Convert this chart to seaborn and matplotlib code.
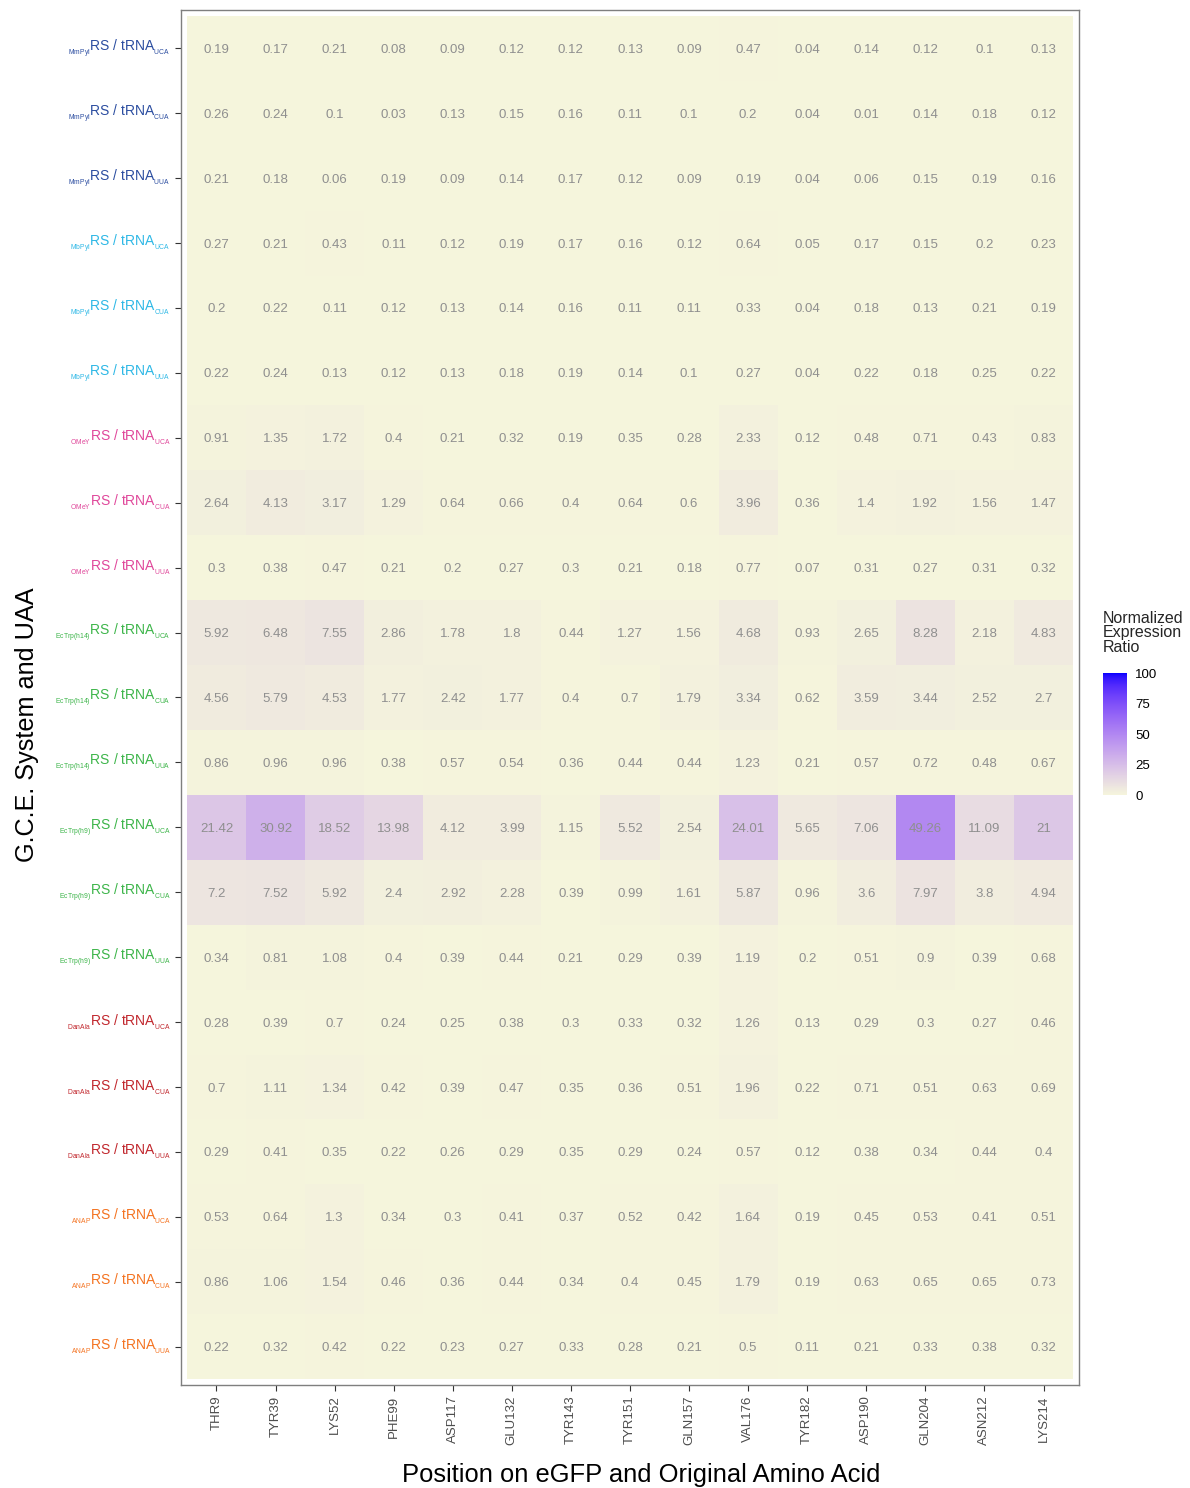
import matplotlib
matplotlib.use("Agg")
import matplotlib.pyplot as plt
from matplotlib.colors import LinearSegmentedColormap
import seaborn as sns
import pandas as pd
import numpy as np

# --- data ---
positions = ['THR9', 'TYR39', 'LYS52', 'PHE99', 'ASP117', 'GLU132', 'TYR143', 'TYR151',
             'GLN157', 'VAL176', 'TYR182', 'ASP190', 'GLN204', 'ASN212', 'LYS214']
systems = ['MmPyl', 'MbPyl', 'OMeY', 'EcTrp(h14)', 'EcTrp(h9)', 'DanAla', 'ANAP']
codons = ['UCA', 'CUA', 'UUA']
system_colors = ['#2B4DA0', '#2EB8E6', '#E0489B', '#3DB54A', '#3DB54A', '#C1272D', '#F47321']

mmpyl_uca = [0.19, 0.17, 0.21, 0.08, 0.09, 0.12, 0.12, 0.13, 0.09, 0.47, 0.04, 0.14, 0.12, 0.1, 0.13]
mmpyl_cua = [0.26, 0.24, 0.1, 0.03, 0.13, 0.15, 0.16, 0.11, 0.1, 0.2, 0.04, 0.01, 0.14, 0.18, 0.12]
mmpyl_uua = [0.21, 0.18, 0.06, 0.19, 0.09, 0.14, 0.17, 0.12, 0.09, 0.19, 0.04, 0.06, 0.15, 0.19, 0.16]
mbpyl_uca = [0.27, 0.21, 0.43, 0.11, 0.12, 0.19, 0.17, 0.16, 0.12, 0.64, 0.05, 0.17, 0.15, 0.2, 0.23]
mbpyl_cua = [0.2, 0.22, 0.11, 0.12, 0.13, 0.14, 0.16, 0.11, 0.11, 0.33, 0.04, 0.18, 0.13, 0.21, 0.19]
mbpyl_uua = [0.22, 0.24, 0.13, 0.12, 0.13, 0.18, 0.19, 0.14, 0.1, 0.27, 0.04, 0.22, 0.18, 0.25, 0.22]
omey_uca = [0.91, 1.35, 1.72, 0.4, 0.21, 0.32, 0.19, 0.35, 0.28, 2.33, 0.12, 0.48, 0.71, 0.43, 0.83]
omey_cua = [2.64, 4.13, 3.17, 1.29, 0.64, 0.66, 0.4, 0.64, 0.6, 3.96, 0.36, 1.4, 1.92, 1.56, 1.47]
omey_uua = [0.3, 0.38, 0.47, 0.21, 0.2, 0.27, 0.3, 0.21, 0.18, 0.77, 0.07, 0.31, 0.27, 0.31, 0.32]
h14_uca = [5.92, 6.48, 7.55, 2.86, 1.78, 1.8, 0.44, 1.27, 1.56, 4.68, 0.93, 2.65, 8.28, 2.18, 4.83]
h14_cua = [4.56, 5.79, 4.53, 1.77, 2.42, 1.77, 0.4, 0.7, 1.79, 3.34, 0.62, 3.59, 3.44, 2.52, 2.7]
h14_uua = [0.86, 0.96, 0.96, 0.38, 0.57, 0.54, 0.36, 0.44, 0.44, 1.23, 0.21, 0.57, 0.72, 0.48, 0.67]
h9_uca = [21.42, 30.92, 18.52, 13.98, 4.12, 3.99, 1.15, 5.52, 2.54, 24.01, 5.65, 7.06, 49.26, 11.09, 21]
h9_cua = [7.2, 7.52, 5.92, 2.4, 2.92, 2.28, 0.39, 0.99, 1.61, 5.87, 0.96, 3.6, 7.97, 3.8, 4.94]
h9_uua = [0.34, 0.81, 1.08, 0.4, 0.39, 0.44, 0.21, 0.29, 0.39, 1.19, 0.2, 0.51, 0.9, 0.39, 0.68]
danala_uca = [0.28, 0.39, 0.7, 0.24, 0.25, 0.38, 0.3, 0.33, 0.32, 1.26, 0.13, 0.29, 0.3, 0.27, 0.46]
danala_cua = [0.7, 1.11, 1.34, 0.42, 0.39, 0.47, 0.35, 0.36, 0.51, 1.96, 0.22, 0.71, 0.51, 0.63, 0.69]
danala_uua = [0.29, 0.41, 0.35, 0.22, 0.26, 0.29, 0.35, 0.29, 0.24, 0.57, 0.12, 0.38, 0.34, 0.44, 0.4]
anap_uca = [0.53, 0.64, 1.3, 0.34, 0.3, 0.41, 0.37, 0.52, 0.42, 1.64, 0.19, 0.45, 0.53, 0.41, 0.51]
anap_cua = [0.86, 1.06, 1.54, 0.46, 0.36, 0.44, 0.34, 0.4, 0.45, 1.79, 0.19, 0.63, 0.65, 0.65, 0.73]
anap_uua = [0.22, 0.32, 0.42, 0.22, 0.23, 0.27, 0.33, 0.28, 0.21, 0.5, 0.11, 0.21, 0.33, 0.38, 0.32]

rows = [mmpyl_uca, mmpyl_cua, mmpyl_uua, mbpyl_uca, mbpyl_cua, mbpyl_uua,
        omey_uca, omey_cua, omey_uua, h14_uca, h14_cua, h14_uua,
        h9_uca, h9_cua, h9_uua, danala_uca, danala_cua, danala_uua,
        anap_uca, anap_cua, anap_uua]

row_labels = []
row_colors = []
for s, c in zip(systems, system_colors):
    for cod in codons:
        # nested subscript keeps the small prefix/suffix text close to the original size
        row_labels.append(r'${}_{{}_{\mathrm{%s}}}\mathrm{RS\ /\ tRNA}_{{}_{\mathrm{%s}}}$' % (s, cod))
        row_colors.append(c)

df = pd.DataFrame(rows, index=row_labels, columns=positions)
annot = df.map(lambda v: f"{v:g}")


# beige -> blue gradient interpolated in CIELAB (like ggplot's scale_fill_gradient)
def srgb_to_lab(rgb):
    rgb = np.asarray(rgb, float)
    lin = np.where(rgb <= 0.04045, rgb / 12.92, ((rgb + 0.055) / 1.055) ** 2.4)
    M = np.array([[0.4124, 0.3576, 0.1805], [0.2126, 0.7152, 0.0722], [0.0193, 0.1192, 0.9505]])
    xyz = M @ lin / np.array([0.95047, 1.0, 1.08883])
    f = np.where(xyz > 0.008856, np.cbrt(xyz), 7.787 * xyz + 16 / 116)
    return np.array([116 * f[1] - 16, 500 * (f[0] - f[1]), 200 * (f[1] - f[2])])


def lab_to_srgb(lab):
    L, a, b = lab
    fy = (L + 16) / 116
    fx = fy + a / 500
    fz = fy - b / 200
    f = np.array([fx, fy, fz])
    xyz = np.where(f ** 3 > 0.008856, f ** 3, (f - 16 / 116) / 7.787) * np.array([0.95047, 1.0, 1.08883])
    Minv = np.array([[3.2406, -1.5372, -0.4986], [-0.9689, 1.8758, 0.0415], [0.0557, -0.2040, 1.0570]])
    lin = np.clip(Minv @ xyz, 0, 1)
    return np.clip(np.where(lin <= 0.0031308, 12.92 * lin, 1.055 * lin ** (1 / 2.4) - 0.055), 0, 1)


lab_lo = srgb_to_lab(np.array([245, 245, 220]) / 255)
lab_hi = srgb_to_lab(np.array([0, 0, 255]) / 255)
grad = [lab_to_srgb(lab_lo + t * (lab_hi - lab_lo)) for t in np.linspace(0, 1, 256)]
cmap = LinearSegmentedColormap.from_list('beige_blue', grad)

# --- style ---
sns.set_theme(style="white")
plt.rcParams['font.family'] = ['Liberation Sans', 'DejaVu Sans']
plt.rcParams['mathtext.fontset'] = 'custom'
plt.rcParams['mathtext.rm'] = 'Liberation Sans'
plt.rcParams['mathtext.it'] = 'Liberation Sans:italic'
plt.rcParams['mathtext.bf'] = 'Liberation Sans:bold'

fig = plt.figure(figsize=(11.9, 14.88), dpi=100)
ax = fig.add_axes([0.1521, 0.0692, 0.7546, 0.9241])
cax = fig.add_axes([0.9269, 0.4657, 0.0202, 0.082])

sns.heatmap(df, ax=ax, cbar_ax=cax, cmap=cmap, vmin=0, vmax=100,
            annot=annot, fmt='', annot_kws={'color': '#8f8f8f', 'fontsize': 9.5, 'va': 'center_baseline'})

ax.set_xlim(-0.1, len(positions) + 0.1)
ax.set_ylim(len(row_labels) + 0.09, -0.09)
for sp in ax.spines.values():
    sp.set_visible(True)
    sp.set_color('#7f7f7f')
    sp.set_linewidth(1.0)

ax.tick_params(axis='both', which='both', length=4, width=0.8, color='#333333',
               bottom=True, left=True)
ax.set_xticklabels(positions, rotation=90, fontsize=9.5, color='#4d4d4d')
ax.set_yticklabels(row_labels, rotation=0, fontsize=10)
for lbl, c in zip(ax.get_yticklabels(), row_colors):
    lbl.set_color(c)

ax.set_xlabel('Position on eGFP and Original Amino Acid', fontsize=18.4, color='black')
ax.set_ylabel('G.C.E. System and UAA', fontsize=18.2, color='black')
ax.xaxis.set_label_coords(0.512, -0.057)
ax.yaxis.set_label_coords(-0.158, 0.48)

# colorbar
cbar = ax.collections[0].colorbar
cbar.set_ticks([0, 25, 50, 75, 100])
cbar.outline.set_visible(False)
cax.tick_params(axis='y', direction='in', length=4, width=0.8, color='white',
                labelsize=9.5, labelcolor='black', pad=6)
cax.text(0, 1.15, 'Normalized\nExpression\nRatio', transform=cax.transAxes,
         ha='left', va='bottom', fontsize=11.5, linespacing=0.95)

fig.savefig('out.png', dpi=100)
